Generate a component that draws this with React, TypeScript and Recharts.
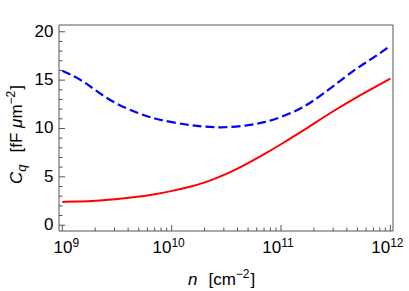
import { LineChart, Line, XAxis, YAxis, Label } from 'recharts'

// carrier density n [cm^-2]
const density = [
  1e9, 1.5e9, 2e9, 3e9, 5e9, 7e9, 1e10, 1.5e10, 2e10, 3e10, 5e10, 7e10,
  1e11, 1.5e11, 2e11, 3e11, 5e11, 7e11, 1e12,
]
// quantum capacitance [fF um^-2]
const solidSeries = [
  2.41, 2.45, 2.52, 2.66, 2.93, 3.2, 3.53, 3.98, 4.4, 5.14, 6.4, 7.33,
  8.36, 9.6, 10.51, 11.8, 13.3, 14.2, 15.15,
]
const dashedSeries = [
  15.97, 15.05, 13.95, 12.6, 11.55, 11.0, 10.65, 10.33, 10.18, 10.07, 10.3, 10.62,
  11.15, 12.02, 12.88, 14.37, 16.3, 17.3, 18.55,
]

const xMajorTicks = [1e9, 1e10, 1e11, 1e12]
const xTickExponents = ['9', '10', '11', '12']
const yMajorTicks = [0, 5, 10, 15, 20]

const xMinorTicks: number[] = []
for (let d = 0; d < xMajorTicks.length - 1; d++) {
  for (let m = 2; m <= 9; m++) xMinorTicks.push(m * xMajorTicks[d])
}
const xTicks = [...xMajorTicks, ...xMinorTicks].sort((a, b) => a - b)
const yTicks: number[] = []
for (let v = 0; v <= 20; v++) yTicks.push(v)

const data = density.map((n, i) => ({
  n,
  solid: solidSeries[i],
  dashed: dashedSeries[i],
}))

const FONT = '"Liberation Sans", Arial, sans-serif'
const FRAME = '#555'
const FS = 17
const FS_SMALL = 12

function XTick(props: any) {
  const { x, y, payload } = props
  const idx = xMajorTicks.findIndex(
    (t) => Math.abs(Math.log10(t) - Math.log10(payload.value)) < 1e-9
  )
  const major = idx >= 0
  // first label is nudged right, like the original
  const shift = idx === 0 ? 4 : -3
  return (
    <g>
      <line x1={x} x2={x} y1={y} y2={y - (major ? 6 : 3.5)} stroke={FRAME} strokeWidth={1} />
      {major && (
        <text x={x + shift} y={y + 22} textAnchor='middle' fontFamily={FONT} fontSize={FS} fill='#000'>
          <tspan>10</tspan>
          <tspan dy={-6} fontSize={FS_SMALL}>
            {xTickExponents[idx]}
          </tspan>
        </text>
      )}
    </g>
  )
}

function YTick(props: any) {
  const { x, y, payload } = props
  const major = yMajorTicks.includes(payload.value)
  return (
    <g>
      <line x1={x} x2={x + (major ? 6 : 3.5)} y1={y} y2={y} stroke={FRAME} strokeWidth={1} />
      {major && (
        <text x={x - 5.5} y={y + 5} textAnchor='end' fontFamily={FONT} fontSize={FS} fill='#000'>
          {payload.value}
        </text>
      )}
    </g>
  )
}

function XTitle(props: any) {
  const { viewBox } = props
  const sx = viewBox.x + viewBox.width / 2 - 38
  return (
    <text x={sx} y={viewBox.y + 54} textAnchor='start' fontFamily={FONT} fontSize={FS} fill='#000'>
      <tspan fontStyle='italic'>n</tspan>
      <tspan dx={11}>[cm</tspan>
      <tspan dy={-7} fontSize={FS_SMALL}>−2</tspan>
      <tspan dy={7} dx={1}>]</tspan>
    </text>
  )
}

function YTitle(props: any) {
  const { viewBox } = props
  const sy = viewBox.y + viewBox.height / 2 + 56
  const bx = 21.5
  return (
    <text
      x={bx}
      y={sy}
      transform={`rotate(-90, ${bx}, ${sy})`}
      textAnchor='start'
      fontFamily={FONT}
      fontSize={FS}
      fill='#000'
    >
      <tspan fontStyle='italic'>C</tspan>
      <tspan fontStyle='italic' dy={4} fontSize={13}>q</tspan>
      <tspan dy={-4} dx={12}>[fF </tspan>
      <tspan fontStyle='italic'>μ</tspan>
      <tspan>m</tspan>
      <tspan dy={-7} fontSize={FS_SMALL}>−2</tspan>
      <tspan dy={7} dx={1}>]</tspan>
    </text>
  )
}

const xDomain = [9.33e8, 1.057e12]
const yDomain = [-0.6, 20.7]

export default function App() {
  return (
    <div style={{ position: 'absolute', left: 0, top: 0, background: '#fff' }}>
      <LineChart
        width={409}
        height={291}
        data={data}
        margin={{ top: 24, right: 15, bottom: 59, left: 58 }}
      >
        <XAxis
          dataKey='n'
          type='number'
          scale='log'
          domain={xDomain}
          allowDataOverflow
          ticks={xTicks}
          interval={0}
          height={1}
          tickSize={0}
          tickMargin={0}
          tickLine={false}
          tick={<XTick />}
          axisLine={{ stroke: FRAME }}
        >
          <Label content={<XTitle />} />
        </XAxis>
        <XAxis
          xAxisId='top'
          orientation='top'
          dataKey='n'
          type='number'
          scale='log'
          domain={xDomain}
          allowDataOverflow
          height={1}
          tick={false}
          tickLine={false}
          axisLine={{ stroke: FRAME }}
        />
        <YAxis
          type='number'
          domain={yDomain}
          allowDataOverflow
          ticks={yTicks}
          interval={0}
          width={1}
          tickSize={0}
          tickMargin={0}
          tickLine={false}
          tick={<YTick />}
          axisLine={{ stroke: FRAME }}
        >
          <Label content={<YTitle />} />
        </YAxis>
        <YAxis
          yAxisId='right'
          orientation='right'
          type='number'
          domain={yDomain}
          allowDataOverflow
          width={1}
          tick={false}
          tickLine={false}
          axisLine={{ stroke: FRAME }}
        />
        <Line
          type='basis'
          dataKey='solid'
          stroke='#ff0000'
          strokeWidth={2}
          dot={false}
          isAnimationActive={false}
        />
        <Line
          type='basis'
          dataKey='dashed'
          stroke='#0000ff'
          strokeWidth={2.2}
          strokeDasharray='9 4'
          dot={false}
          isAnimationActive={false}
        />
      </LineChart>
    </div>
  )
}
